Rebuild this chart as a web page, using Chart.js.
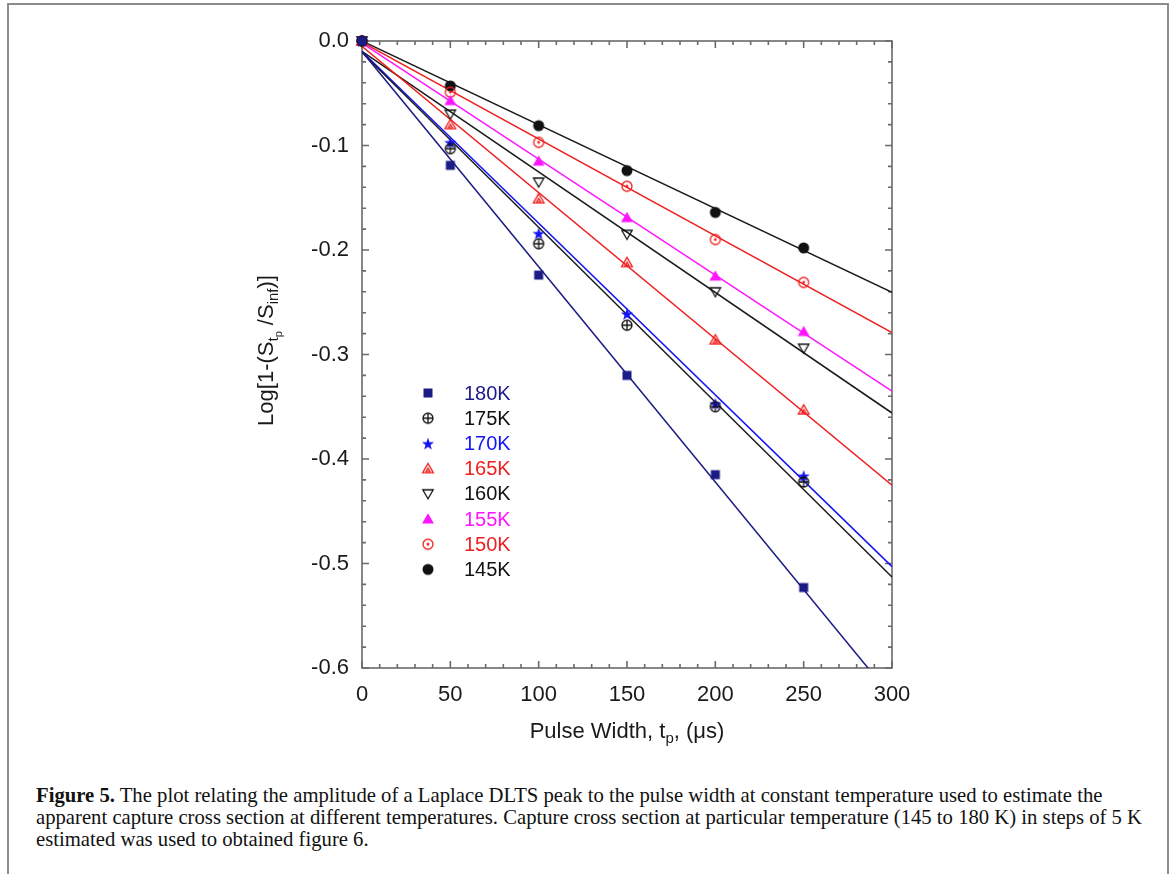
<!DOCTYPE html>
<html>
<head>
<meta charset="utf-8">
<script src="https://cdn.jsdelivr.net/npm/chart.js@4.4.1/dist/chart.umd.min.js"></script>
<style>
  body { margin: 0; background: #fff; width: 1171px; height: 874px; overflow: hidden; position: relative; }
  #frame { position: absolute; left: 7px; top: 3px; width: 1158px; height: 900px; border: 2px solid #8c8c8c; border-bottom: none; }
  #wrap { position: absolute; left: 0; top: 0; width: 1171px; height: 760px; }
  #caption { position: absolute; left: 36px; top: 784px; font: 20.7px "Liberation Serif", serif; line-height: 22px; color: #111; white-space: nowrap; }
</style>
</head>
<body>
<div id="frame"></div>
<div id="wrap"><canvas id="chart"></canvas></div>
<div id="caption"><b>Figure 5.</b> The plot relating the amplitude of a Laplace DLTS peak to the pulse width at constant temperature used to estimate the<br>apparent capture cross section at different temperatures. Capture cross section at particular temperature (145 to 180 K) in steps of 5 K<br>estimated was used to obtained figure 6.</div>
<script>
"use strict";

// ── Data ──────────────────────────────────────────────────────────────────
const pulseWidths = [0, 50, 100, 150, 200, 250];
const temps = ["180K", "175K", "170K", "165K", "160K", "155K", "150K", "145K"];
const amp180 = [0, -0.119, -0.224, -0.320, -0.415, -0.523];
const amp175 = [0, -0.103, -0.194, -0.272, -0.350, -0.422];
const amp170 = [0, -0.097, -0.184, -0.261, -0.347, -0.416];
const amp165 = [0, -0.080, -0.151, -0.212, -0.286, -0.353];
const amp160 = [0, -0.070, -0.135, -0.185, -0.240, -0.294];
const amp155 = [0, -0.057, -0.115, -0.169, -0.225, -0.278];
const amp150 = [0, -0.049, -0.097, -0.139, -0.190, -0.231];
const amp145 = [0, -0.043, -0.081, -0.124, -0.164, -0.198];
const amps = [amp180, amp175, amp170, amp165, amp160, amp155, amp150, amp145];
// linear fits: value at t = 0 and t = 300 µs
const fitT = [0, 300];
const fitAt0 = [-0.010, -0.011, -0.010, -0.005, -0.010, -0.002, -0.001, 0];
const fitAt300 = [-0.628, -0.513, -0.503, -0.425, -0.356, -0.335, -0.279, -0.2405];
const xMin = 0, xMax = 300, xStep = 50, xMinor = 10;
const yMin = -0.6, yMax = 0, yStep = 0.1, yMinor = 0.02;

const NAVY = "#1b1b85", BLUE = "#1414f5", RED = "#ee2020", MAG = "#ff14ff", BLK = "#111";
const colors = [NAVY, BLK, BLUE, RED, BLK, MAG, RED, BLK];
const FONT = '"Liberation Sans", Arial, sans-serif';

// ── Markers ───────────────────────────────────────────────────────────────
const mk = (draw) => {
  const c = document.createElement("canvas");
  c.width = c.height = 16;
  const g = c.getContext("2d");
  g.translate(8, 8);
  g.lineWidth = 1.3;
  draw(g);
  return c;
};
const poly = (g, pts) => {
  g.beginPath();
  pts.forEach(([x, y], i) => (i ? g.lineTo(x, y) : g.moveTo(x, y)));
  g.closePath();
};
const tri = (g, r, dy, down) => {
  const s = down ? -1 : 1;
  poly(g, [[0, dy - s * r], [r * 0.87, dy + s * r * 0.5], [-r * 0.87, dy + s * r * 0.5]]);
};
const circ = (g, r) => { g.beginPath(); g.arc(0, 0, r, 0, Math.PI * 2); };
const markers = [
  mk((g) => { g.fillStyle = NAVY; g.fillRect(-4.5, -4.5, 9, 9); }),
  mk((g) => {
    g.strokeStyle = BLK; circ(g, 5); g.stroke();
    g.beginPath(); g.moveTo(-5, 0); g.lineTo(5, 0); g.moveTo(0, -5); g.lineTo(0, 5); g.stroke();
  }),
  mk((g) => {
    const pts = [];
    for (let i = 0; i < 10; i++) {
      const r = i % 2 ? 2.6 : 6.5, a = -Math.PI / 2 + i * Math.PI / 5;
      pts.push([r * Math.cos(a), r * Math.sin(a) + 0.8]);
    }
    g.fillStyle = BLUE; poly(g, pts); g.fill();
  }),
  mk((g) => { g.strokeStyle = RED; tri(g, 6.2, 1, false); g.stroke(); tri(g, 2.4, 2, false); g.stroke(); }),
  mk((g) => { g.strokeStyle = BLK; tri(g, 6, -1, true); g.stroke(); }),
  mk((g) => { g.fillStyle = MAG; tri(g, 6.8, 1, false); g.fill(); }),
  mk((g) => { g.strokeStyle = RED; circ(g, 5); g.stroke(); g.fillStyle = RED; circ(g, 1.4); g.fill(); }),
  mk((g) => { g.fillStyle = BLK; circ(g, 5.5); g.fill(); }),
];

// ── Datasets ──────────────────────────────────────────────────────────────
const pointSets = temps.map((t, i) => ({
  label: t,
  data: pulseWidths.map((x, j) => ({ x, y: amps[i][j] })),
  showLine: false,
  pointStyle: markers[i],
  pointRadius: 6,
  clip: false,
  order: 0,
}));
const fitSets = temps.map((t, i) => ({
  label: t + " fit",
  data: fitT.map((x, j) => ({ x, y: j ? fitAt300[i] : fitAt0[i] })),
  showLine: true,
  borderColor: colors[i] === BLK ? "#1a1a1a" : colors[i],
  borderWidth: 1.5,
  pointRadius: 0,
  order: 1,
}));

// ── Frame, inward ticks, titles, legend ─────────────────────────────────
const range = (a, b, s) => { const out = []; for (let v = a; v <= b + s / 2; v += s) out.push(+v.toFixed(4)); return out; };
const isMajor = (v, s) => Math.abs(v / s - Math.round(v / s)) < 1e-6;

const richText = (ctx, parts, x, y) => {
  const w = parts.map(([s, sz]) => { ctx.font = `${sz}px ${FONT}`; return ctx.measureText(s).width; });
  let cx = x - w.reduce((a, b) => a + b, 0) / 2;
  parts.forEach(([s, sz, dy], i) => { ctx.font = `${sz}px ${FONT}`; ctx.fillText(s, cx, y + dy); cx += w[i]; });
};

const decor = {
  id: "decor",
  beforeDatasetsDraw(chart) {
    const { ctx, chartArea: a, scales: { x, y } } = chart;
    ctx.save();
    ctx.strokeStyle = "#6a6a6a";
    ctx.lineWidth = 1.6;
    ctx.strokeRect(a.left, a.top, a.right - a.left, a.bottom - a.top);
    ctx.beginPath();
    range(xMin, xMax, xMinor).forEach((v) => {
      const px = x.getPixelForValue(v), len = isMajor(v, xStep) ? 7 : 4;
      ctx.moveTo(px, a.bottom); ctx.lineTo(px, a.bottom - len);
      ctx.moveTo(px, a.top); ctx.lineTo(px, a.top + len);
    });
    range(yMin, yMax, yMinor).forEach((v) => {
      const py = y.getPixelForValue(v), len = isMajor(v, yStep) ? 7 : 4;
      ctx.moveTo(a.left, py); ctx.lineTo(a.left + len, py);
      ctx.moveTo(a.right, py); ctx.lineTo(a.right - len, py);
    });
    ctx.stroke();
    ctx.restore();
  },
  afterDatasetsDraw(chart) {
    const { ctx, chartArea: a } = chart;
    ctx.save();
    ctx.fillStyle = "#1a1a1a";
    ctx.textBaseline = "alphabetic";
    richText(ctx, [["Pulse Width, t", 22, 0], ["p", 15, 5], [", (\u03bcs)", 22, 0]], (a.left + a.right) / 2, 738);
    ctx.save();
    ctx.translate(273, (a.top + a.bottom) / 2 - 4);
    ctx.rotate(-Math.PI / 2);
    richText(ctx, [["Log[1-(S", 22, 0], ["t", 15, 5], ["p", 11, 9], [" /S", 22, 0], ["inf", 15, 5], [")]", 22, 0]], 0, 0);
    ctx.restore();
    // legend
    ctx.font = `20px ${FONT}`;
    ctx.textBaseline = "middle";
    temps.forEach((t, i) => {
      const ly = 393 + i * 25.2;
      ctx.drawImage(markers[i], 428 - 8, ly - 8);
      ctx.fillStyle = colors[i];
      ctx.fillText(t, 464, ly + 1);
    });
    ctx.restore();
  },
};

// ── Chart ─────────────────────────────────────────────────────────────────
const tickFont = { family: FONT, size: 22 };
new Chart(document.getElementById("chart"), {
  type: "scatter",
  data: { datasets: [...pointSets, ...fitSets] },
  options: {
    responsive: true,
    maintainAspectRatio: false,
    animation: false,
    events: [],
    layout: { padding: { left: 262, top: 41, right: 279, bottom: 42 } },
    plugins: { legend: { display: false }, tooltip: { enabled: false } },
    scales: {
      x: {
        type: "linear", min: xMin, max: xMax,
        afterFit: (s) => { s.height = 50; },
        grid: { display: false, drawTicks: false },
        border: { display: false },
        ticks: { stepSize: xStep, font: tickFont, color: "#1a1a1a", padding: 14, maxRotation: 0 },
      },
      y: {
        type: "linear", min: yMin, max: yMax,
        afterFit: (s) => { s.width = 100; },
        grid: { display: false, drawTicks: false },
        border: { display: false },
        ticks: { stepSize: yStep, font: tickFont, color: "#1a1a1a", padding: 13, callback: (v) => (+v).toFixed(1) },
      },
    },
  },
  plugins: [decor],
});
</script>
</body>
</html>
